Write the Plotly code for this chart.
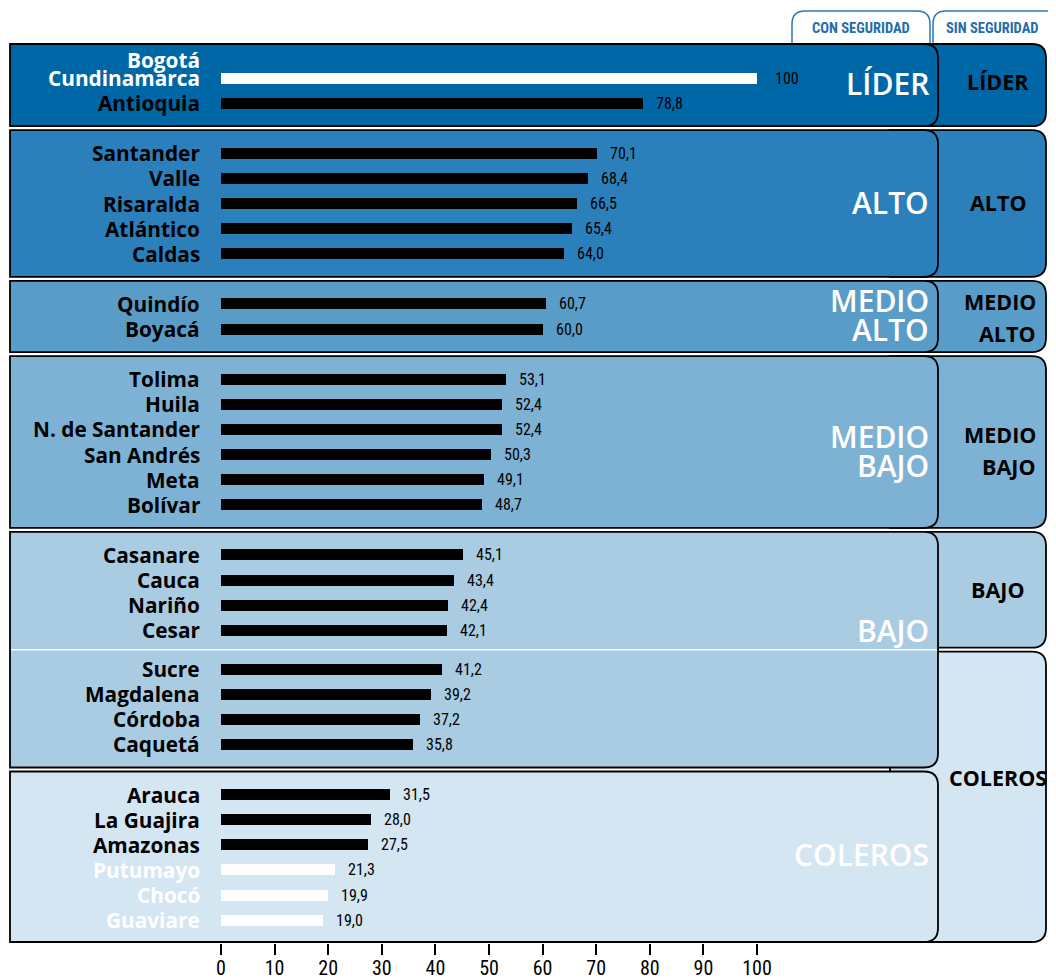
import plotly.graph_objects as go

# ---------------- data ----------------
states = ["Bogotá Cundinamarca", "Antioquia", "Santander", "Valle", "Risaralda",
          "Atlántico", "Caldas", "Quindío", "Boyacá", "Tolima", "Huila",
          "N. de Santander", "San Andrés", "Meta", "Bolívar", "Casanare", "Cauca",
          "Nariño", "Cesar", "Sucre", "Magdalena", "Córdoba", "Caquetá", "Arauca",
          "La Guajira", "Amazonas", "Putumayo", "Chocó", "Guaviare"]
values = [100, 78.8, 70.1, 68.4, 66.5, 65.4, 64.0, 60.7, 60.0, 53.1, 52.4, 52.4,
          50.3, 49.1, 48.7, 45.1, 43.4, 42.4, 42.1, 41.2, 39.2, 37.2, 35.8, 31.5,
          28.0, 27.5, 21.3, 19.9, 19.0]
group_con = (["LÍDER"] * 2 + ["ALTO"] * 5 + ["MEDIO ALTO"] * 2 + ["MEDIO BAJO"] * 6
             + ["BAJO"] * 8 + ["COLEROS"] * 6)
group_sin = (["LÍDER"] * 2 + ["ALTO"] * 5 + ["MEDIO ALTO"] * 2 + ["MEDIO BAJO"] * 6
             + ["BAJO"] * 4 + ["COLEROS"] * 10)
white_states = ["Bogotá Cundinamarca", "Putumayo", "Chocó", "Guaviare"]
group_order = ["LÍDER", "ALTO", "MEDIO ALTO", "MEDIO BAJO", "BAJO", "COLEROS"]
tick_vals = [0, 10, 20, 30, 40, 50, 60, 70, 80, 90, 100]
tab_titles = ["CON SEGURIDAD", "SIN SEGURIDAD"]

# ---------------- styling / layout ----------------
group_colors = {"LÍDER": "#0067a7", "ALTO": "#2b7fba", "MEDIO ALTO": "#599cc7",
                "MEDIO BAJO": "#7db2d4", "BAJO": "#a9cce3", "COLEROS": "#d4e6f2"}
PAGE_W, PAGE_H = 1056, 979
OFF = 8                        # default body margin of the html page
W, H = PAGE_W - OFF, PAGE_H - OFF
PX0, PXU = 221, 5.36           # page pixel of x=0, pixels per unit
PLOT_BOTTOM = 943              # page pixel of the bottom of the plot area
Y_START, STEP = 78, 25.1
RIGHT_EDGE = 1046              # right edge of the "sin seguridad" column


def xd(px):
    return (px - PX0) / PXU


# row positions (page-pixel y units)
rows = []
y = Y_START
for i in range(len(states)):
    if i > 0:
        y += STEP
        if group_con[i] != group_con[i - 1]:
            y += STEP
        elif group_sin[i] != group_sin[i - 1]:
            y += STEP * 0.55
    rows.append(y)


def group_bounds(groups):
    b = {}
    for g in group_order:
        idx = [i for i, gg in enumerate(groups) if gg == g]
        f, l = idx[0], idx[-1]
        top = 44 if f == 0 else (rows[f - 1] + rows[f]) / 2 + 2
        bot = 942 if l == len(rows) - 1 else (rows[l] + rows[l + 1]) / 2 - 2
        b[g] = (top, bot)
    return b


bounds_con = group_bounds(group_con)
bounds_sin = group_bounds(group_sin)


def rpath(x0, x1, y0, y1, r):
    rx = r / PXU
    X0, X1 = xd(x0), xd(x1)
    return (f"M {X0},{y0} L {X1 - rx},{y0} Q {X1},{y0} {X1},{y0 + r} "
            f"L {X1},{y1 - r} Q {X1},{y1} {X1 - rx},{y1} L {X0},{y1} Z")


def tabpath(x0, x1, y0, y1, r):
    rx = r / PXU
    X0, X1 = xd(x0), xd(x1)
    return (f"M {X0},{y1} L {X0},{y0 + r} Q {X0},{y0} {X0 + rx},{y0} "
            f"L {X1 - rx},{y0} Q {X1},{y0} {X1},{y0 + r} L {X1},{y1}")


shapes = []
# tabs
tab_x = [(792, 930), (933, 1062)]
for (a, b_) in tab_x:
    shapes.append(dict(type="path", path=tabpath(a, b_, 11, 50, 13), xref="x", yref="y",
                       fillcolor="white", line=dict(color="#2a78b5", width=1.5), layer="below"))
# right column panels (behind)
for g in group_order:
    t, b_ = bounds_sin[g]
    shapes.append(dict(type="path", path=rpath(890, RIGHT_EDGE, t, b_, 14), xref="x",
                       yref="y", fillcolor=group_colors[g],
                       line=dict(color="black", width=1.8), layer="below"))
# left column panels
for g in group_order:
    t, b_ = bounds_con[g]
    shapes.append(dict(type="path", path=rpath(10, 938, t, b_, 14), xref="x", yref="y",
                       fillcolor=group_colors[g], line=dict(color="black", width=1.8),
                       layer="below"))
# white separator inside BAJO (where the "sin seguridad" split is)
split_y = (bounds_sin["BAJO"][1] + bounds_sin["COLEROS"][0]) / 2
shapes.append(dict(type="line", x0=xd(11), x1=xd(937), y0=split_y, y1=split_y,
                   xref="x", yref="y", line=dict(color="white", width=1.5), layer="below"))

bar_colors = ["white" if s in white_states else "black" for s in states]

fig = go.Figure()
fig.add_trace(go.Bar(orientation="h", x=values, y=rows, width=11,
                     marker=dict(color=bar_colors, line=dict(width=0)),
                     hoverinfo="skip", showlegend=False))

LABEL_FONT = "Open Sans, DejaVu Sans, sans-serif"
COND_FONT = ("Roboto Condensed, Noto Sans Condensed, Open Sans Condensed, "
             "Liberation Sans Narrow, Arial Narrow, DejaVu Sans Condensed, sans-serif")
annotations = []
# state labels
for s, yy in zip(states, rows):
    col = "white" if s in white_states else "black"
    if s == "Bogotá Cundinamarca":
        parts = [("Cundinamarca", 0), ("Bogotá", 18)]
    else:
        parts = [(s, 0)]
    for txt, ys in parts:
        annotations.append(dict(x=0, y=yy, xref="x", yref="y", text=txt, showarrow=False,
                                xanchor="right", yanchor="middle", xshift=-19, yshift=ys,
                                font=dict(family=LABEL_FONT, size=20.8, color=col, weight=700)))
# value labels
for v, yy in zip(values, rows):
    txt = "100" if v == 100 else f"{v:.1f}".replace(".", ",")
    annotations.append(dict(x=v, y=yy, xref="x", yref="y", text=txt, showarrow=False,
                            xanchor="left", yanchor="middle", xshift=16 if v == 100 else 11,
                            font=dict(family=COND_FONT, size=16, color="black")))

# group labels, left (white) and right (black)
left_offsets = {"LÍDER": -2, "ALTO": -1, "MEDIO ALTO": -1, "MEDIO BAJO": 9, "COLEROS": -2}
right_offsets = {"LÍDER": -4, "ALTO": -1, "MEDIO ALTO": 1, "MEDIO BAJO": 9, "BAJO": 0,
                 "COLEROS": -19}
for g in group_order:
    t, b_ = bounds_con[g]
    if g == "BAJO":
        cy = rows[max(i for i, gg in enumerate(group_sin) if gg == "BAJO")]
    else:
        cy = (t + b_) / 2 + left_offsets[g]
    words = g.split(" ")
    n = len(words)
    for k, w in enumerate(words):
        yy = cy + (k - (n - 1) / 2) * 29
        annotations.append(dict(x=xd(931), y=yy, xref="x", yref="y", text=w, showarrow=False,
                                xanchor="right", yanchor="middle",
                                font=dict(family=LABEL_FONT, size=30, color="white", weight=600)))
for g in group_order:
    t, b_ = bounds_sin[g]
    cy = (t + b_) / 2 + right_offsets[g]
    words = g.split(" ")
    n = len(words)
    for k, w in enumerate(words):
        yy = cy + (k - (n - 1) / 2) * 32
        if n > 1:
            ax, anc = xd(1038), "right"
        else:
            ax, anc = xd(998), "center"
        annotations.append(dict(x=ax, y=yy, xref="x", yref="y", text=w, showarrow=False,
                                xanchor=anc, yanchor="middle",
                                font=dict(family=LABEL_FONT, size=21.5, color="black", weight=700)))
# tab titles
for (a, b_), ttl in zip(tab_x, tab_titles):
    cx = (a + min(b_, PAGE_W)) / 2 + (-2 if a > 900 else 0)
    annotations.append(dict(x=xd(cx), y=28, xref="x", yref="y", text=ttl, showarrow=False,
                            xanchor="center", yanchor="middle",
                            font=dict(family=COND_FONT, size=14.5, color="#1f6dab", weight=700)))

fig.update_layout(
    width=W, height=H,
    margin=dict(l=0, r=0, t=0, b=(H + OFF) - PLOT_BOTTOM, autoexpand=False),
    paper_bgcolor="white", plot_bgcolor="white",
    shapes=shapes, annotations=annotations,
    xaxis=dict(range=[xd(OFF), xd(PAGE_W)], tickvals=tick_vals, ticks="outside", ticklen=11,
               tickwidth=1.5, tickcolor="black", showgrid=False, zeroline=False,
               showline=False, automargin=False, ticklabelstandoff=-4,
               tickfont=dict(family=COND_FONT, size=20, color="black"),
               fixedrange=True),
    yaxis=dict(range=[PLOT_BOTTOM, OFF], visible=False, showgrid=False, zeroline=False,
               automargin=False, fixedrange=True),
    bargap=0,
)
fig.write_html("out.html")
